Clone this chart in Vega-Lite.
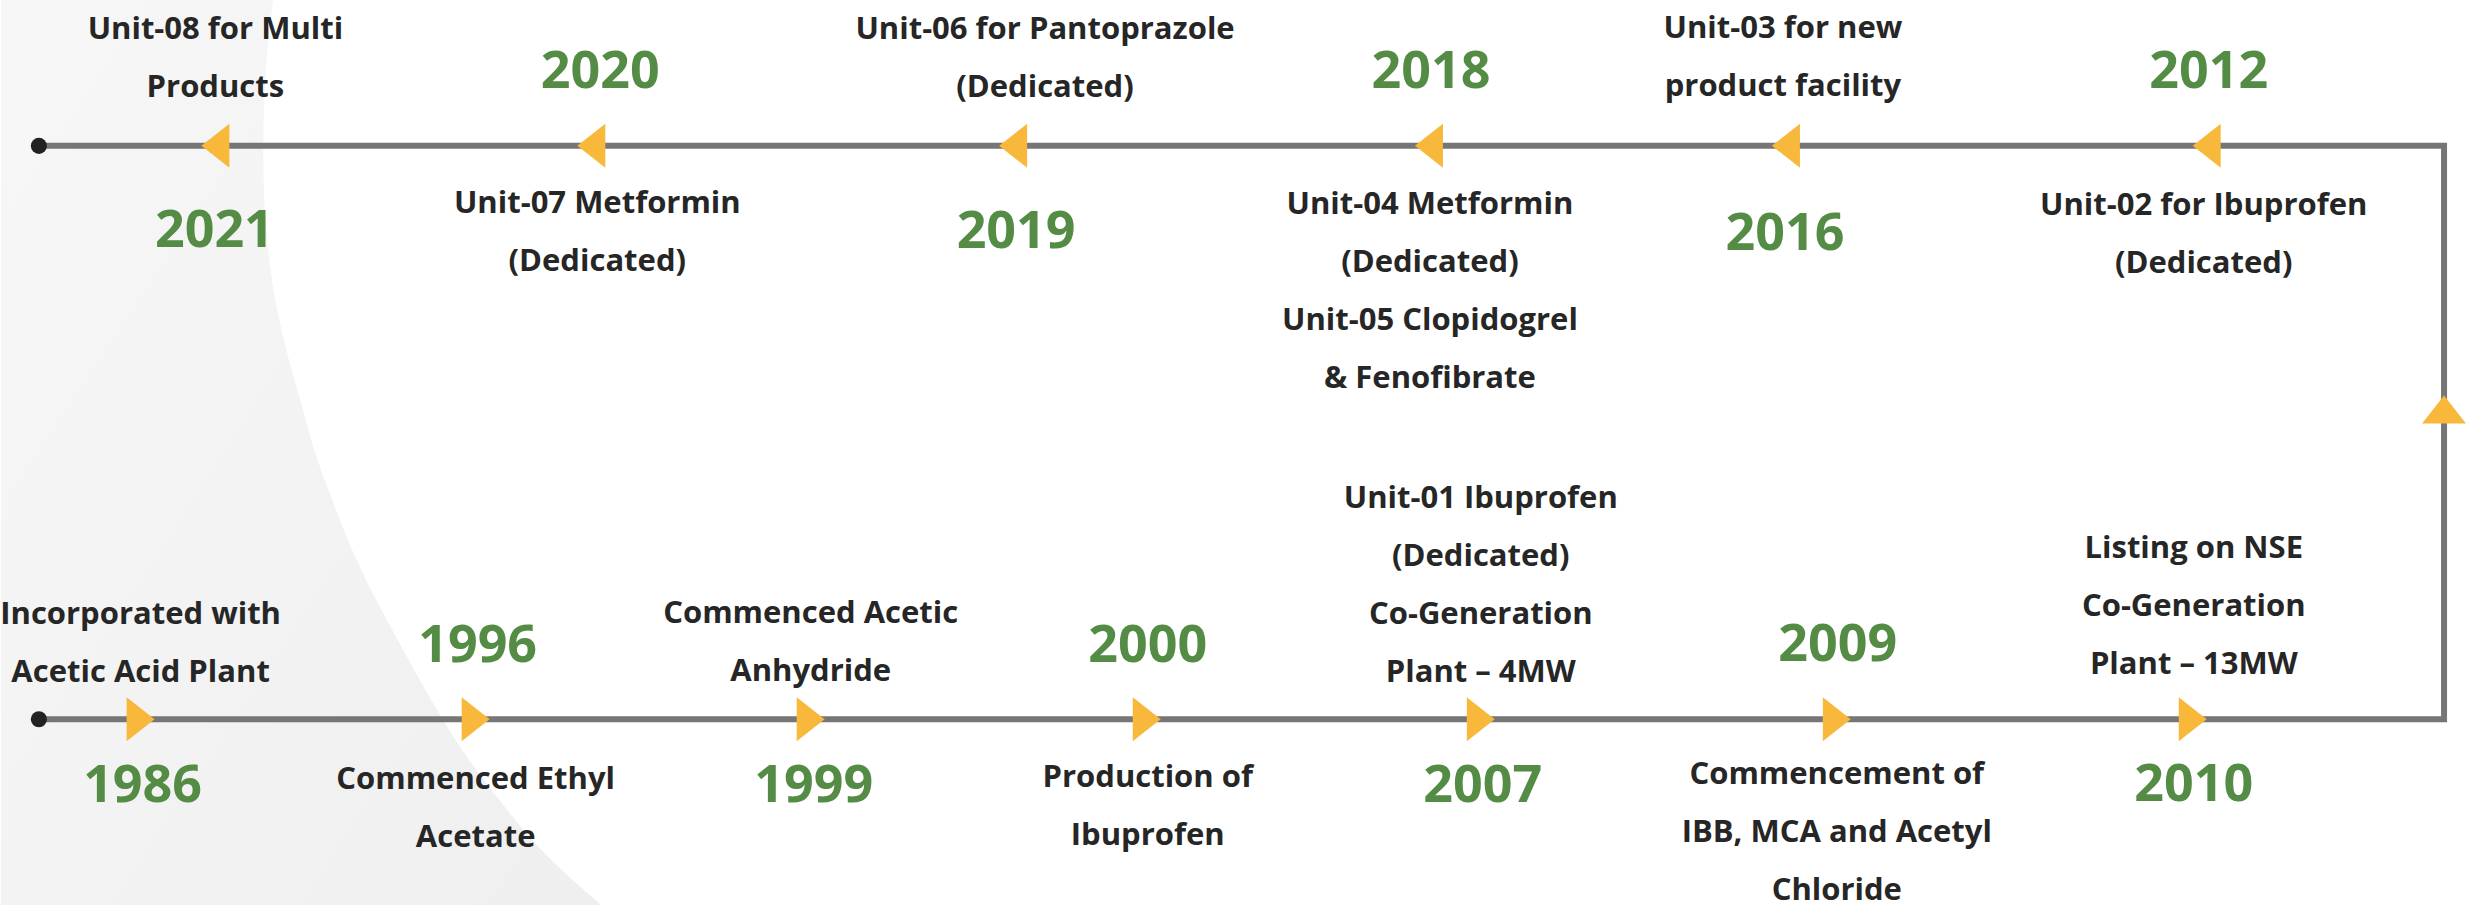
{
  "$schema": "https://vega.github.io/schema/vega-lite/v6.json",
  "width": 2466,
  "height": 906,
  "autosize": {"type": "fit", "contains": "padding"},
  "padding": 0,
  "background": "#ffffff",
  "config": {"view": {"stroke": null}},
  "datasets": {
    "bg": [
      {"y": 0, "x": 273}, {"y": 50, "x": 267}, {"y": 100, "x": 264}, {"y": 150, "x": 263},
      {"y": 200, "x": 264}, {"y": 250, "x": 268}, {"y": 300, "x": 275}, {"y": 350, "x": 286},
      {"y": 400, "x": 300}, {"y": 450, "x": 314}, {"y": 500, "x": 332}, {"y": 550, "x": 352},
      {"y": 600, "x": 376}, {"y": 650, "x": 403}, {"y": 700, "x": 431}, {"y": 750, "x": 462},
      {"y": 800, "x": 499}, {"y": 850, "x": 541}, {"y": 906, "x": 602}
    ],
    "path": [
      {"i": 1, "x": 38, "y": 146}, {"i": 2, "x": 2450, "y": 146},
      {"i": 3, "x": 2450, "y": 720}, {"i": 4, "x": 38, "y": 720}
    ],
    "ends": [{"x": 38, "y": 146}, {"x": 38, "y": 720}],
    "arrows": [
      {"x": 215, "y": 146, "dir": "left"}, {"x": 592, "y": 146, "dir": "left"},
      {"x": 1015, "y": 146, "dir": "left"}, {"x": 1432, "y": 146, "dir": "left"},
      {"x": 1790, "y": 146, "dir": "left"}, {"x": 2212, "y": 146, "dir": "left"},
      {"x": 2450, "y": 410, "dir": "up"},
      {"x": 140, "y": 720, "dir": "right"}, {"x": 476, "y": 720, "dir": "right"},
      {"x": 812, "y": 720, "dir": "right"}, {"x": 1149, "y": 720, "dir": "right"},
      {"x": 1484, "y": 720, "dir": "right"}, {"x": 1841, "y": 720, "dir": "right"},
      {"x": 2198, "y": 720, "dir": "right"}
    ],
    "events": [
      {"year": "2021", "yx": 214, "yy": 247, "label": "Unit-08 for Multi\nProducts", "lx": 215, "ly": 39},
      {"year": "2020", "yx": 601, "yy": 88, "label": "Unit-07 Metformin\n(Dedicated)", "lx": 598, "ly": 213},
      {"year": "2019", "yx": 1018, "yy": 248, "label": "Unit-06  for Pantoprazole\n(Dedicated)", "lx": 1047, "ly": 39},
      {"year": "2018", "yx": 1434, "yy": 88, "label": "Unit-04 Metformin\n(Dedicated)\nUnit-05 Clopidogrel\n& Fenofibrate", "lx": 1433, "ly": 214},
      {"year": "2016", "yx": 1789, "yy": 250, "label": "Unit-03 for new\nproduct facility", "lx": 1787, "ly": 38},
      {"year": "2012", "yx": 2214, "yy": 88, "label": "Unit-02 for Ibuprofen\n(Dedicated)", "lx": 2209, "ly": 215},
      {"year": "1986", "yx": 142, "yy": 803, "label": "Incorporated with\nAcetic Acid Plant", "lx": 140, "ly": 625},
      {"year": "1996", "yx": 478, "yy": 663, "label": "Commenced Ethyl\nAcetate", "lx": 476, "ly": 790},
      {"year": "1999", "yx": 815, "yy": 803, "label": "Commenced Acetic\nAnhydride", "lx": 812, "ly": 624},
      {"year": "2000", "yx": 1150, "yy": 663, "label": "Production of\nIbuprofen", "lx": 1150, "ly": 788},
      {"year": "2007", "yx": 1486, "yy": 803, "label": "Unit-01 Ibuprofen\n(Dedicated)\nCo-Generation\nPlant – 4MW", "lx": 1484, "ly": 509},
      {"year": "2009", "yx": 1842, "yy": 662, "label": "Commencement of\nIBB, MCA and Acetyl\nChloride", "lx": 1841, "ly": 785},
      {"year": "2010", "yx": 2199, "yy": 802, "label": "Listing on NSE\nCo-Generation\nPlant – 13MW", "lx": 2199, "ly": 559}
    ]
  },
  "layer": [
    {
      "data": {"name": "bg"},
      "mark": {
        "type": "area", "orient": "horizontal", "interpolate": "monotone",
        "color": {"gradient": "linear", "x1": 0, "y1": 0, "x2": 1, "y2": 1,
          "stops": [{"offset": 0, "color": "#f7f7f7"}, {"offset": 1, "color": "#efefef"}]}
      },
      "encoding": {
        "y": {"field": "y", "type": "quantitative", "scale": {"domain": [0, 906], "reverse": true, "nice": false, "zero": false}, "axis": null},
        "x": {"field": "x", "type": "quantitative", "scale": {"domain": [0, 2466], "nice": false, "zero": false}, "axis": null},
        "x2": {"datum": 0}
      }
    },
    {
      "data": {"name": "path"},
      "mark": {"type": "line", "color": "#767676", "strokeWidth": 6, "strokeJoin": "miter", "strokeCap": "butt"},
      "encoding": {
        "x": {"field": "x", "type": "quantitative", "scale": {"domain": [0, 2466], "nice": false, "zero": false}, "axis": null},
        "y": {"field": "y", "type": "quantitative", "scale": {"domain": [0, 906], "reverse": true, "nice": false, "zero": false}, "axis": null},
        "order": {"field": "i", "type": "quantitative"}
      }
    },
    {
      "data": {"name": "ends"},
      "mark": {"type": "point", "shape": "circle", "filled": true, "color": "#222222", "opacity": 1, "size": 260},
      "encoding": {
        "x": {"field": "x", "type": "quantitative", "scale": {"domain": [0, 2466], "nice": false, "zero": false}, "axis": null},
        "y": {"field": "y", "type": "quantitative", "scale": {"domain": [0, 906], "reverse": true, "nice": false, "zero": false}, "axis": null}
      }
    },
    {
      "data": {"name": "arrows"},
      "mark": {"type": "point", "filled": true, "color": "#F8B83B", "opacity": 1, "size": 1936, "strokeWidth": 0},
      "encoding": {
        "x": {"field": "x", "type": "quantitative", "scale": {"domain": [0, 2466], "nice": false, "zero": false}, "axis": null},
        "y": {"field": "y", "type": "quantitative", "scale": {"domain": [0, 906], "reverse": true, "nice": false, "zero": false}, "axis": null},
        "shape": {
          "field": "dir", "type": "nominal", "legend": null,
          "scale": {"domain": ["left", "right", "up"],
            "range": ["M-0.636,0L0.636,-1L0.636,1Z", "M0.636,0L-0.636,-1L-0.636,1Z", "M0,-0.636L1,0.636L-1,0.636Z"]}
        }
      }
    },
    {
      "data": {"name": "events"},
      "mark": {"type": "text", "font": "Open Sans", "fontWeight": "bold", "fontSize": 52, "color": "#548C46", "align": "center", "baseline": "alphabetic"},
      "encoding": {
        "x": {"field": "yx", "type": "quantitative", "scale": {"domain": [0, 2466], "nice": false, "zero": false}, "axis": null},
        "y": {"field": "yy", "type": "quantitative", "scale": {"domain": [0, 906], "reverse": true, "nice": false, "zero": false}, "axis": null},
        "text": {"field": "year", "type": "nominal"}
      }
    },
    {
      "data": {"name": "events"},
      "mark": {"type": "text", "font": "Open Sans", "fontWeight": "bold", "fontSize": 31, "color": "#262626", "align": "center", "baseline": "alphabetic", "lineBreak": "\n", "lineHeight": 58},
      "encoding": {
        "x": {"field": "lx", "type": "quantitative", "scale": {"domain": [0, 2466], "nice": false, "zero": false}, "axis": null},
        "y": {"field": "ly", "type": "quantitative", "scale": {"domain": [0, 906], "reverse": true, "nice": false, "zero": false}, "axis": null},
        "text": {"field": "label", "type": "nominal"}
      }
    }
  ]
}
